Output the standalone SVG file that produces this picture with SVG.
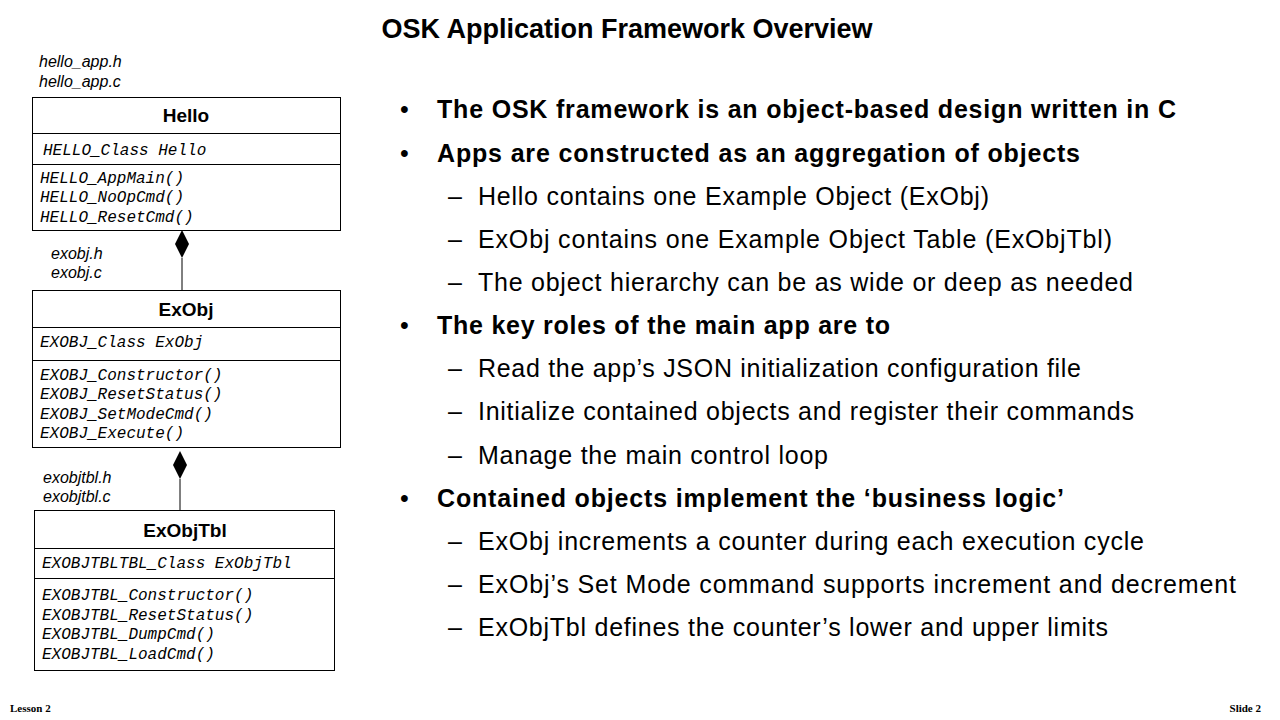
<svg xmlns="http://www.w3.org/2000/svg" width="1280" height="720" viewBox="0 0 1280 720">
<style>
.file{font-family:"Liberation Sans",Arial,sans-serif;font-style:italic;font-size:16px;fill:#000}
.cname{font-family:"Liberation Sans",Arial,sans-serif;font-weight:bold;font-size:19px;fill:#000;text-anchor:middle}
.mono{font-family:"Liberation Mono","Courier New",monospace;font-style:italic;font-size:16px;fill:#000}
.box{fill:#fff;stroke:#000;stroke-width:1}
.l1{font-family:"Liberation Sans",Arial,sans-serif;font-weight:bold;font-size:25px;fill:#000}
.l2{font-family:"Liberation Sans",Arial,sans-serif;font-size:25px;fill:#000}
.foot{font-family:"Liberation Serif","Times New Roman",serif;font-weight:bold;font-size:11px;fill:#000}
</style>
<rect width="1280" height="720" fill="#fff"/>
<text x="627" y="38" text-anchor="middle" style="font-family:'Liberation Sans',Arial,sans-serif;font-weight:bold;font-size:27px">OSK Application Framework Overview</text>

<g id="connectors">
<polygon points="182,230 189,244 182,258 175,244" fill="#000"/>
<line x1="182" y1="258" x2="182" y2="290" stroke="#000"/>
<polygon points="180,451 187,465 180,479 173,465" fill="#000"/>
<line x1="180" y1="479" x2="180" y2="510" stroke="#000"/>
</g>

<g id="hello">
<text class="file" x="39" y="67">hello_app.h</text>
<text class="file" x="39" y="87">hello_app.c</text>
<rect class="box" x="32.5" y="97.5" width="308" height="133"/>
<line x1="32.5" y1="133.5" x2="340.5" y2="133.5" stroke="#000"/>
<line x1="32.5" y1="164.5" x2="340.5" y2="164.5" stroke="#000"/>
<text class="cname" x="186" y="122">Hello</text>
<text class="mono" x="43" y="155">HELLO_Class Hello</text>
<text class="mono" x="40" y="183">HELLO_AppMain()</text>
<text class="mono" x="40" y="202">HELLO_NoOpCmd()</text>
<text class="mono" x="40" y="222">HELLO_ResetCmd()</text>
</g>

<g id="exobj">
<text class="file" x="51" y="259">exobj.h</text>
<text class="file" x="51" y="278">exobj.c</text>
<rect class="box" x="32.5" y="290.5" width="308" height="157"/>
<line x1="32.5" y1="327.5" x2="340.5" y2="327.5" stroke="#000"/>
<line x1="32.5" y1="360.5" x2="340.5" y2="360.5" stroke="#000"/>
<text class="cname" x="186" y="316">ExObj</text>
<text class="mono" x="40" y="347">EXOBJ_Class ExObj</text>
<text class="mono" x="40" y="380">EXOBJ_Constructor()</text>
<text class="mono" x="40" y="399">EXOBJ_ResetStatus()</text>
<text class="mono" x="40" y="419">EXOBJ_SetModeCmd()</text>
<text class="mono" x="40" y="438">EXOBJ_Execute()</text>
</g>

<g id="exobjtbl">
<text class="file" x="43" y="483">exobjtbl.h</text>
<text class="file" x="43" y="502">exobjtbl.c</text>
<rect class="box" x="34.5" y="510.5" width="300" height="160"/>
<line x1="34.5" y1="548.5" x2="334.5" y2="548.5" stroke="#000"/>
<line x1="34.5" y1="578.5" x2="334.5" y2="578.5" stroke="#000"/>
<text class="cname" x="185" y="537">ExObjTbl</text>
<text class="mono" x="42" y="568">EXOBJTBLTBL_Class ExObjTbl</text>
<text class="mono" x="42" y="600">EXOBJTBL_Constructor()</text>
<text class="mono" x="42" y="620">EXOBJTBL_ResetStatus()</text>
<text class="mono" x="42" y="639">EXOBJTBL_DumpCmd()</text>
<text class="mono" x="42" y="659">EXOBJTBL_LoadCmd()</text>
</g>

<g id="bullets">
<text class="l2" x="400" y="118">•</text>
<text class="l1" x="437" y="118" textLength="739" lengthAdjust="spacing">The OSK framework is an object-based design written in C</text>
<text class="l2" x="400" y="162">•</text>
<text class="l1" x="437" y="162" textLength="643" lengthAdjust="spacing">Apps are constructed as an aggregation of objects</text>
<text class="l2" x="448" y="205">–</text>
<text class="l2" x="478" y="205" textLength="511" lengthAdjust="spacing">Hello contains one Example Object (ExObj)</text>
<text class="l2" x="448" y="248">–</text>
<text class="l2" x="478" y="248" textLength="634" lengthAdjust="spacing">ExObj contains one Example Object Table (ExObjTbl)</text>
<text class="l2" x="448" y="291">–</text>
<text class="l2" x="478" y="291" textLength="655" lengthAdjust="spacing">The object hierarchy can be as wide or deep as needed</text>
<text class="l2" x="400" y="334">•</text>
<text class="l1" x="437" y="334" textLength="453" lengthAdjust="spacing">The key roles of the main app are to</text>
<text class="l2" x="448" y="377">–</text>
<text class="l2" x="478" y="377" textLength="603" lengthAdjust="spacing">Read the app’s JSON initialization configuration file</text>
<text class="l2" x="448" y="420">–</text>
<text class="l2" x="478" y="420" textLength="656" lengthAdjust="spacing">Initialize contained objects and register their commands</text>
<text class="l2" x="448" y="464">–</text>
<text class="l2" x="478" y="464" textLength="350" lengthAdjust="spacing">Manage the main control loop</text>
<text class="l2" x="400" y="507">•</text>
<text class="l1" x="437" y="507" textLength="627" lengthAdjust="spacing">Contained objects implement the ‘business logic’</text>
<text class="l2" x="448" y="550">–</text>
<text class="l2" x="478" y="550" textLength="666" lengthAdjust="spacing">ExObj increments a counter during each execution cycle</text>
<text class="l2" x="448" y="593">–</text>
<text class="l2" x="478" y="593" textLength="758" lengthAdjust="spacing">ExObj’s Set Mode command supports increment and decrement</text>
<text class="l2" x="448" y="636">–</text>
<text class="l2" x="478" y="636" textLength="630" lengthAdjust="spacing">ExObjTbl defines the counter’s lower and upper limits</text>
</g>

<text class="foot" x="10" y="712">Lesson 2</text>
<text class="foot" x="1261" y="712" text-anchor="end">Slide 2</text>
</svg>
